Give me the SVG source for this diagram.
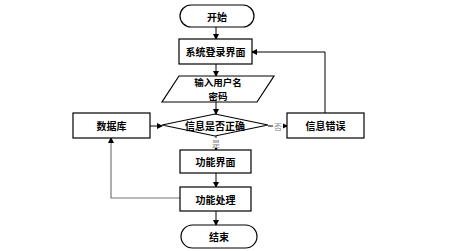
<svg xmlns="http://www.w3.org/2000/svg" width="463" height="251" viewBox="0 0 463 251">
<defs>
<style>
.s{fill:#fff;stroke:#000;stroke-width:1.2}
.t{font-family:"Noto Sans CJK SC","Liberation Sans",sans-serif;font-size:10px;font-weight:bold;fill:#000;text-anchor:middle;dominant-baseline:central}
.m{font-size:9.5px}
.l{font-family:"Noto Sans CJK SC",sans-serif;font-size:8px;fill:#888;text-anchor:middle;dominant-baseline:central}
.c{fill:none;stroke:#000;stroke-width:1}
.g{fill:none;stroke:#777;stroke-width:1.2}
</style>
<marker id="a" markerWidth="6" markerHeight="6" refX="5" refY="3" orient="auto" markerUnits="userSpaceOnUse"><path d="M0,0 L6,3 L0,6 Z" fill="#000"/></marker>
</defs>
<rect width="463" height="251" fill="#fff"/>
<g id="connectors">
<line class="c" x1="216" y1="27" x2="216" y2="39" marker-end="url(#a)"/>
<line class="c" x1="216" y1="64" x2="216" y2="76" marker-end="url(#a)"/>
<line class="c" x1="216" y1="102" x2="216" y2="114" marker-end="url(#a)"/>
<line class="c" x1="150" y1="126" x2="162" y2="126" marker-end="url(#a)"/>
<line class="c" x1="268" y1="126" x2="287" y2="126" marker-end="url(#a)"/>
<polyline class="c" points="325,113 325,52 252,52" marker-end="url(#a)"/>
<line class="c" x1="216" y1="136" x2="216" y2="150" marker-end="url(#a)"/>
<line class="c" x1="216" y1="173" x2="216" y2="187" marker-end="url(#a)"/>
<line class="c" x1="216" y1="211" x2="216" y2="225" marker-end="url(#a)"/>
<polyline class="g" points="180,198 111,198 111,138" marker-end="url(#a)"/>
<rect x="273" y="120" width="10" height="12" fill="#fff"/>
<text class="l" x="278" y="126">否</text>
<rect x="211" y="138" width="10" height="10" fill="#fff"/>
<text class="l" x="216" y="143">是</text>
</g>
<g id="start"><rect class="s" x="180" y="5" width="74" height="22" rx="11"/><text class="t" x="217" y="16">开始</text></g>
<g id="login"><rect class="s" x="179" y="39" width="73" height="25"/><text class="t" x="215.5" y="51.5">系统登录界面</text></g>
<g id="input"><polygon class="s" points="179,76 274,76 257,102 162,102"/><text class="t m" x="218" y="82">输入用户名</text><text class="t m" x="218" y="96">密码</text></g>
<g id="check"><polygon class="s" points="162,125 215,114 268,125 215,136"/><text class="t" x="215" y="125">信息是否正确</text></g>
<g id="db"><rect class="s" x="73" y="113" width="77" height="25"/><text class="t" x="111.5" y="125.5">数据库</text></g>
<g id="err"><rect class="s" x="287" y="113" width="77" height="25"/><text class="t" x="325.5" y="125.5">信息错误</text></g>
<g id="func"><rect class="s" x="180" y="150" width="71" height="23"/><text class="t" x="215.5" y="161.5">功能界面</text></g>
<g id="proc"><rect class="s" x="180" y="187" width="71" height="24"/><text class="t" x="215.5" y="199">功能处理</text></g>
<g id="end"><rect class="s" x="181" y="225" width="76" height="23" rx="11.5"/><text class="t" x="219" y="236.5">结束</text></g>
</svg>
